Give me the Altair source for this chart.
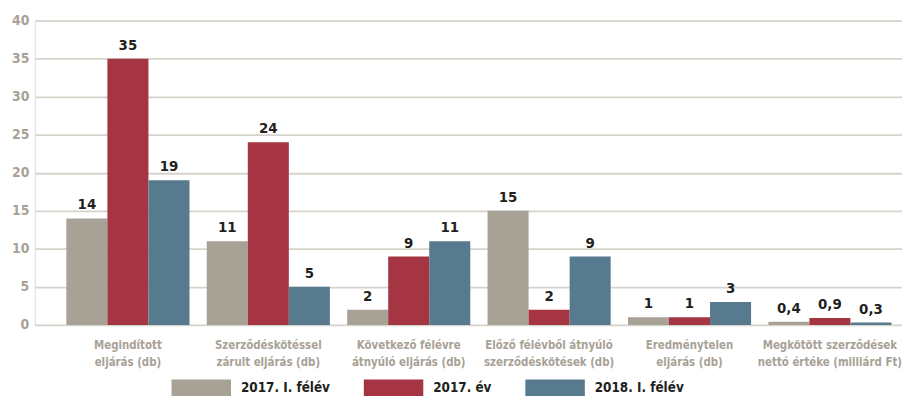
import altair as alt
import pandas as pd

categories = [
    "Megindított|eljárás (db)",
    "Szerződéskötéssel|zárult eljárás (db)",
    "Következő félévre|átnyúló eljárás (db)",
    "Előző félévből átnyúló|szerződéskötések (db)",
    "Eredménytelen|eljárás (db)",
    "Megkötött szerződések|nettó értéke (milliárd Ft)",
]
series = ["2017. I. félév", "2017. év", "2018. I. félév"]
values_2017_h1 = [14, 11, 2, 15, 1, 0.4]
values_2017 = [35, 24, 9, 2, 1, 0.9]
values_2018_h1 = [19, 5, 11, 9, 3, 0.3]
colors = ["#a8a196", "#a53542", "#587a8f"]

rows = []
for s, vals in zip(series, [values_2017_h1, values_2017, values_2018_h1]):
    for c, v in zip(categories, vals):
        rows.append({"cat": c, "series": s, "value": v,
                     "label": (f"{v:g}").replace(".", ",")})
df = pd.DataFrame(rows)

FONT = "DejaVu Sans Condensed"
GRAY = "#a8a196"
DARK = "#231f20"

x = alt.X("cat:N", sort=categories, title=None,
          scale=alt.Scale(paddingInner=0.123, paddingOuter=0.15, align=0.75),
          axis=alt.Axis(labelAngle=0, domain=False, ticks=False, labelPadding=15,
                        labelExpr="split(datum.label, '|')", labelFont=FONT,
                        labelFontSize=11.5, labelFontWeight="bold", labelColor=GRAY,
                        labelLineHeight=17, labelLimit=400, labelOverlap=False))
xo = alt.XOffset("series:N", sort=series, scale=alt.Scale(paddingInner=0, paddingOuter=0))
y = alt.Y("value:Q", title=None,
          scale=alt.Scale(domain=[0, 40]),
          axis=alt.Axis(values=[0, 5, 10, 15, 20, 25, 30, 35, 40], domain=False, ticks=False,
                        labelPadding=6, labelFont=FONT, labelFontSize=14,
                        labelFontWeight="bold", labelColor=GRAY,
                        gridColor="#d6d4ca", gridWidth=1.8))

legend_symbol = "M-1,-0.3L1,-0.3L1,0.3L-1,0.3Z"

bars = alt.Chart(df).mark_bar().encode(
    x=x, xOffset=xo, y=y,
    color=alt.Color("series:N", sort=series,
                    scale=alt.Scale(domain=series, range=colors),
                    legend=alt.Legend(title=None, orient="none", direction="horizontal",
                                      legendX=138, legendY=341,
                                      symbolType=legend_symbol, symbolSize=3600,
                                      symbolOpacity=1, symbolStrokeWidth=0,
                                      labelFont=FONT, labelFontSize=13.5,
                                      labelFontWeight="bold", labelColor=DARK,
                                      labelOffset=10, columnPadding=34)),
)

texts = alt.Chart(df).mark_text(baseline="bottom", dy=-6, font=FONT, fontSize=15,
                                fontWeight="bold", color=DARK).encode(
    x=x, xOffset=xo, y=y, text="label:N")

chart = (bars + texts).properties(
    width=875, height=307,
    autosize=alt.AutoSizeParams(type="none"),
    padding={"left": 27, "top": 11, "right": 0, "bottom": 70},
).configure_view(stroke=None).configure(background="white")

chart.save("out.html", embed_options={"renderer": "svg", "actions": False})
